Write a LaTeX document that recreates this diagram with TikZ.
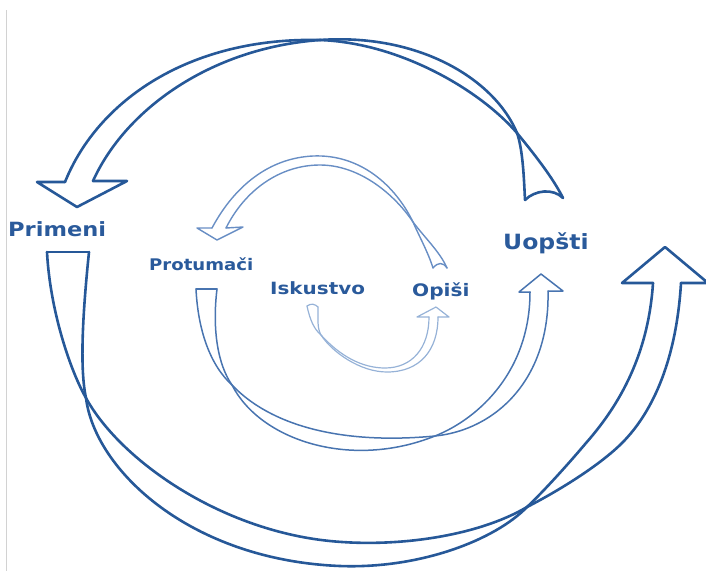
\documentclass[tikz,border=0pt]{standalone}
\usepackage{fontspec}
\newfontfamily\labfont{DejaVu Sans}
\definecolor{dkb}{RGB}{38,88,152}
\definecolor{txb}{RGB}{42,90,155}
\definecolor{mdb}{RGB}{72,116,176}
\definecolor{ltb}{RGB}{104,142,196}
\definecolor{xlb}{RGB}{150,178,215}
\begin{document}
\begin{tikzpicture}[x=1pt,y=-1pt,
  big/.style={draw=dkb, line width=2.6pt, line join=round, line cap=round},
  midarr/.style={draw=mdb, line width=1.5pt, line join=round, line cap=round},
  ltarr/.style={draw=ltb, line width=1.4pt, line join=round, line cap=round},
  xltarr/.style={draw=xlb, line width=1.2pt, line join=round, line cap=round},
  lab/.style={inner sep=0pt, anchor=base west, text=txb, font=\labfont\bfseries}]
\useasboundingbox (0,0) rectangle (706,571);
\clip (0,0) rectangle (706,571);
% scan border
\draw[gray!35, line width=0.8pt] (6,10) -- (6,571);

% ---- A1: big top arrow (Uopsti -> Primeni)
\draw[big] (65,182) .. controls (98,100) and (190,37) .. (320,40)
  .. controls (400,43) and (480,90) .. (517,133)
  .. controls (535,155) and (553,178) .. (563,198);
\draw[big] (93,181) .. controls (125,110) and (210,48) .. (320,40)
  .. controls (420,33) and (495,80) .. (517,133)
  .. controls (523,150) and (524,180) .. (525,200);
\draw[big] (525,200) .. controls (535,190) and (553,188) .. (563,198);
\draw[big] (65,182) -- (37,182) -- (77,207) -- (127,181) -- (93,181);

% ---- A2: big bottom arrow (Primeni -> Uopsti)
\draw[big] (47,252) -- (89,252);
\draw[big] (47,252) .. controls (50,310) and (70,370) .. (86,398)
  .. controls (120,460) and (220,530) .. (330,541)
  .. controls (400,548) and (480,535) .. (527,507)
  .. controls (560,490) and (600,465) .. (622,443)
  .. controls (650,415) and (676,365) .. (681,283);
\draw[big] (89,252) .. controls (82,320) and (80,370) .. (86,398)
  .. controls (95,470) and (190,560) .. (340,566)
  .. controls (420,569) and (495,540) .. (527,507)
  .. controls (545,490) and (570,462) .. (586,443)
  .. controls (615,410) and (648,360) .. (653,283);
\draw[big] (653,283) -- (622,283) -- (665,247) -- (708,283) -- (681,283);

% ---- A3: middle arrow (Protumaci -> Uopsti)
\draw[midarr] (196,289) -- (217,289);
\draw[midarr] (196,289) .. controls (198,330) and (210,365) .. (232,385)
  .. controls (270,425) and (340,445) .. (435,436)
  .. controls (495,430) and (550,380) .. (548,291);
\draw[midarr] (217,289) .. controls (212,330) and (218,365) .. (232,385)
  .. controls (260,440) and (350,470) .. (435,436)
  .. controls (480,418) and (530,370) .. (530,292);
\draw[midarr] (530,292) -- (519,292) -- (541,274) -- (563,291) -- (548,291);

% ---- A4: inner top arrow (Opisi -> Protumaci)
\draw[ltarr] (212,228) .. controls (235,185) and (270,158) .. (313,156)
  .. controls (360,154) and (395,185) .. (413,222)
  .. controls (419,236) and (428,252) .. (433,268);
\draw[ltarr] (226,228) .. controls (245,190) and (280,165) .. (320,165)
  .. controls (360,165) and (395,195) .. (413,222)
  .. controls (425,238) and (440,252) .. (447,268);
\draw[ltarr] (433,268) .. controls (438,262) and (443,262) .. (447,268);
\draw[ltarr] (212,228) -- (197,228) -- (217,240) -- (243,227) -- (226,228);

% ---- A5: innermost arrow (Iskustvo -> Opisi)
\draw[xltarr] (307,306) .. controls (311,303) and (315,304) .. (318,307);
\draw[xltarr] (307,306) .. controls (310,320) and (314,329) .. (321,335)
  .. controls (340,356) and (362,368) .. (385,368)
  .. controls (412,368) and (429,348) .. (429,317);
\draw[xltarr] (318,307) .. controls (318,318) and (317,328) .. (321,335)
  .. controls (332,352) and (360,372) .. (387,372)
  .. controls (420,372) and (438,350) .. (438,317);
\draw[xltarr] (429,317) -- (417,317) -- (436,307) -- (449,317) -- (438,317);

% ---- labels
\node[lab] (primeni) at (8,236) {\fontsize{19.6}{24}\selectfont\scalebox{1.15}[1]{Primeni}};
\node[lab] (protumaci) at (149,270) {\fontsize{16}{20}\selectfont\scalebox{1.13}[1]{Protumači}};
\node[lab] (iskustvo) at (270,294) {\fontsize{16.9}{20}\selectfont\scalebox{1.18}[1]{Iskustvo}};
\node[lab] (opisi) at (412,296) {\fontsize{17.2}{20}\selectfont\scalebox{1.17}[1]{Opiši}};
\node[lab] (uopsti) at (503,249) {\fontsize{21}{24}\selectfont\scalebox{1.12}[1]{Uopšti}};
\end{tikzpicture}
\end{document}
